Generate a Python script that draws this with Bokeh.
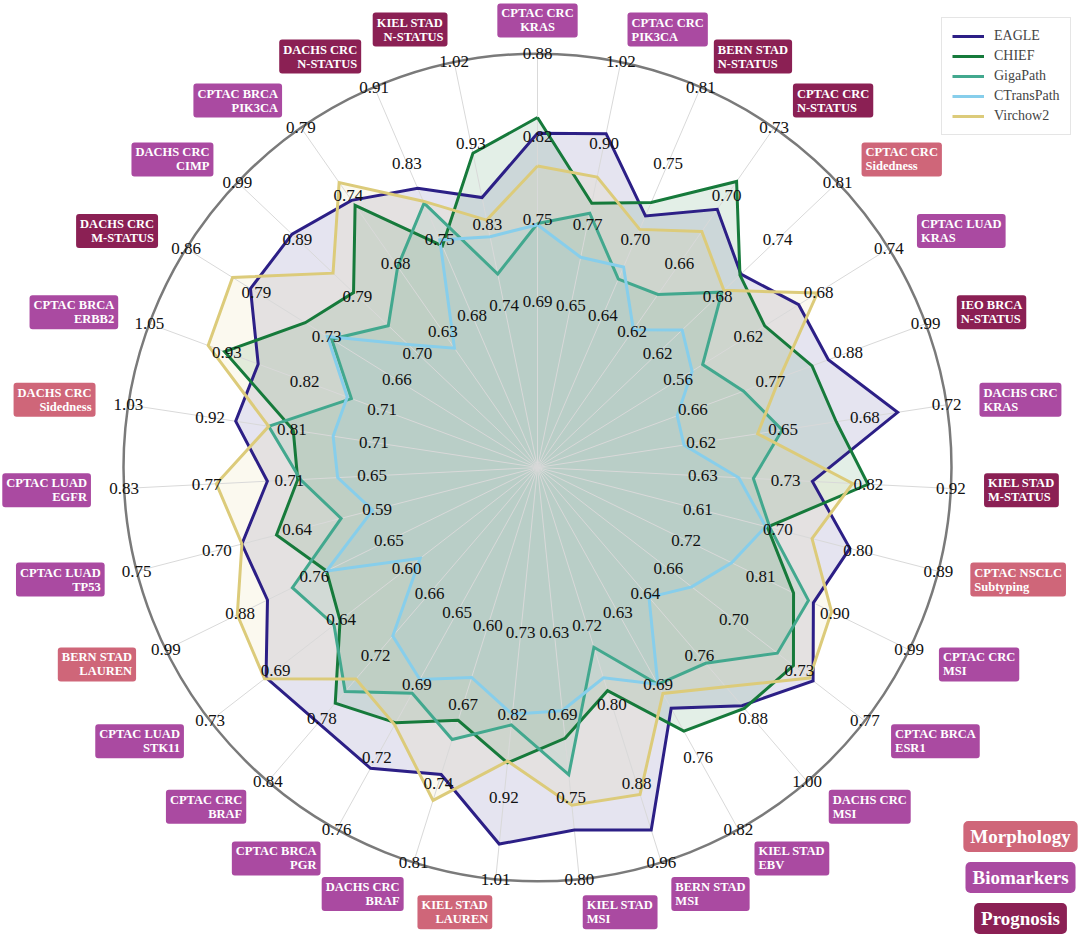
import numpy as np
from bokeh.plotting import figure
from bokeh.models import ColumnDataSource, Range1d, Legend, LegendItem
from bokeh.embed import file_html
from bokeh.resources import INLINE
from bokeh.core.properties import value

# ---------------- data ----------------
tasks = [
    "CPTAC CRC\nKRAS", "CPTAC CRC\nPIK3CA", "BERN STAD\nN-STATUS", "CPTAC CRC\nN-STATUS",
    "CPTAC CRC\nSidedness", "CPTAC LUAD\nKRAS", "IEO BRCA\nN-STATUS", "DACHS CRC\nKRAS",
    "KIEL STAD\nM-STATUS", "CPTAC NSCLC\nSubtyping", "CPTAC CRC\nMSI", "CPTAC BRCA\nESR1",
    "DACHS CRC\nMSI", "KIEL STAD\nEBV", "BERN STAD\nMSI", "KIEL STAD\nMSI",
    "KIEL STAD\nLAUREN", "DACHS CRC\nBRAF", "CPTAC BRCA\nPGR", "CPTAC CRC\nBRAF",
    "CPTAC LUAD\nSTK11", "BERN STAD\nLAUREN", "CPTAC LUAD\nTP53", "CPTAC LUAD\nEGFR",
    "DACHS CRC\nSidedness", "CPTAC BRCA\nERBB2", "DACHS CRC\nM-STATUS", "DACHS CRC\nCIMP",
    "CPTAC BRCA\nPIK3CA", "DACHS CRC\nN-STATUS", "KIEL STAD\nN-STATUS",
]
task_group = [
    "Biomarkers", "Biomarkers", "Prognosis", "Prognosis",
    "Morphology", "Biomarkers", "Prognosis", "Biomarkers",
    "Prognosis", "Morphology", "Biomarkers", "Biomarkers",
    "Biomarkers", "Biomarkers", "Biomarkers", "Biomarkers",
    "Morphology", "Biomarkers", "Biomarkers", "Biomarkers",
    "Biomarkers", "Morphology", "Biomarkers", "Biomarkers",
    "Morphology", "Biomarkers", "Prognosis", "Biomarkers",
    "Biomarkers", "Prognosis", "Prognosis",
]

# per-axis tick labels at 40%, 60%, 80% and 100% of the radius
tick_40 = [0.69, 0.65, 0.64, 0.62, 0.62, 0.56, 0.66, 0.62, 0.63, 0.61, 0.72, 0.66, 0.64, 0.63, 0.72, 0.63,
           0.73, 0.60, 0.65, 0.66, 0.60, 0.65, 0.59, 0.65, 0.71, 0.71, 0.66, 0.70, 0.63, 0.68, 0.74]
tick_60 = [0.75, 0.77, 0.70, 0.66, 0.68, 0.62, 0.77, 0.65, 0.73, 0.70, 0.81, 0.70, 0.76, 0.69, 0.80, 0.69,
           0.82, 0.67, 0.69, 0.72, 0.64, 0.76, 0.64, 0.71, 0.81, 0.82, 0.73, 0.79, 0.68, 0.75, 0.83]
tick_80 = [0.82, 0.90, 0.75, 0.70, 0.74, 0.68, 0.88, 0.68, 0.82, 0.80, 0.90, 0.73, 0.88, 0.76, 0.88, 0.75,
           0.92, 0.74, 0.72, 0.78, 0.69, 0.88, 0.70, 0.77, 0.92, 0.93, 0.79, 0.89, 0.74, 0.83, 0.93]
tick_100 = [0.88, 1.02, 0.81, 0.73, 0.81, 0.74, 0.99, 0.72, 0.92, 0.89, 0.99, 0.77, 1.00, 0.82, 0.96, 0.80,
            1.01, 0.81, 0.76, 0.84, 0.73, 0.99, 0.75, 0.83, 1.03, 1.05, 0.86, 0.99, 0.79, 0.91, 1.02]

eagle = [0.819, 0.911, 0.714, 0.686, 0.708, 0.663, 0.852, 0.700, 0.758, 0.787, 0.874, 0.741, 0.855, 0.714,
         0.927, 0.766, 0.970, 0.732, 0.729, 0.784, 0.693, 0.835, 0.680, 0.726, 0.890, 0.891, 0.799, 0.902,
         0.733, 0.808, 0.864]
chief = [0.831, 0.805, 0.724, 0.701, 0.707, 0.634, 0.829, 0.675, 0.823, 0.691, 0.850, 0.730, 0.860, 0.734,
         0.786, 0.703, 0.878, 0.684, 0.706, 0.765, 0.644, 0.745, 0.657, 0.704, 0.815, 0.940, 0.747, 0.803,
         0.729, 0.750, 0.915]
gigapath = [0.750, 0.790, 0.667, 0.640, 0.688, 0.581, 0.732, 0.653, 0.689, 0.694, 0.868, 0.721, 0.774, 0.693,
            0.742, 0.728, 0.835, 0.701, 0.691, 0.754, 0.648, 0.797, 0.614, 0.702, 0.847, 0.755, 0.722, 0.747,
            0.681, 0.793, 0.776]
ctranspath = [0.749, 0.723, 0.676, 0.621, 0.646, 0.572, 0.638, 0.613, 0.672, 0.689, 0.775, 0.673, 0.648, 0.693,
              0.773, 0.684, 0.823, 0.646, 0.684, 0.701, 0.591, 0.745, 0.593, 0.675, 0.763, 0.761, 0.726, 0.715,
              0.617, 0.756, 0.819]
virchow2 = [0.794, 0.845, 0.704, 0.674, 0.690, 0.679, 0.783, 0.643, 0.805, 0.743, 0.896, 0.739, 0.819, 0.701,
            0.891, 0.749, 0.876, 0.755, 0.707, 0.742, 0.694, 0.881, 0.680, 0.763, 0.847, 0.964, 0.816, 0.836,
            0.747, 0.795, 0.838]

series_names = ["EAGLE", "CHIEF", "GigaPath", "CTransPath", "Virchow2"]
series_values = [eagle, chief, gigapath, ctranspath, virchow2]
series_colors = ["#2c1f86", "#167a3b", "#42a88e", "#87ceeb", "#dccb7a"]

groups = ["Morphology", "Biomarkers", "Prognosis"]
group_colors = {"Morphology": "#cf6679", "Biomarkers": "#aa4aa1", "Prognosis": "#8b2054"}

# ---------------- geometry ----------------
N = len(tasks)
ang = 2 * np.pi * np.arange(N) / N
SX, CY = np.sin(ang), np.cos(ang)
lo = np.array(tick_40, float)
hi = np.array(tick_100, float)


def to_radius(vals):
    return 0.4 + 0.6 * (np.asarray(vals, float) - lo) / (hi - lo)


R_PX = 414.0
W, H = 1080, 937
CXP, CYP = 537, 467
p = figure(width=W, height=H,
           x_range=Range1d(-CXP / R_PX, (W - CXP) / R_PX),
           y_range=Range1d(-(H - CYP) / R_PX, CYP / R_PX),
           x_axis_type=None, y_axis_type=None,
           output_backend="svg", toolbar_location=None, min_border=0)
p.grid.visible = False
p.outline_line_color = None
p.background_fill_color = "white"

# fills
for name, vals, col in zip(series_names, series_values, series_colors):
    r = to_radius(vals)
    xs = np.append(r * SX, r[0] * SX[0])
    ys = np.append(r * CY, r[0] * CY[0])
    p.patch(xs, ys, fill_color=col, fill_alpha=0.12, line_color=None)

# spokes
p.segment(x0=np.zeros(N), y0=np.zeros(N), x1=SX, y1=CY, line_color="#d9d9d9", line_width=1)

# lines
line_renderers = []
for name, vals, col in zip(series_names, series_values, series_colors):
    r = to_radius(vals)
    xs = np.append(r * SX, r[0] * SX[0])
    ys = np.append(r * CY, r[0] * CY[0])
    lr = p.line(xs, ys, line_color=col, line_width=3, line_join="miter")
    line_renderers.append(lr)

# outer circle
p.circle(x=[0], y=[0], radius=1.0, fill_color=None, line_color="#7a7a7a", line_width=2.5)

# tick labels
tk_x, tk_y, tk_t = [], [], []
for frac, labels in zip([0.4, 0.6, 0.8, 1.0], [tick_40, tick_60, tick_80, tick_100]):
    for i in range(N):
        tk_x.append(frac * SX[i])
        tk_y.append(frac * CY[i])
        tk_t.append(f"{labels[i]:.2f}")
p.text(x=tk_x, y=tk_y, text=tk_t, text_align="center", text_baseline="middle",
       text_font=value("Liberation Serif"), text_font_size="17px", text_color="#111111")

# task labels in coloured boxes
LR = 1.08
aligns = ["center" if abs(s) < 0.05 else ("left" if s > 0 else "right") for s in SX]
for al in ["left", "right", "center"]:
    for g in groups:
        idx = [i for i in range(N) if aligns[i] == al and task_group[i] == g]
        if not idx:
            continue
        src = ColumnDataSource(dict(x=[LR * SX[i] for i in idx], y=[LR * CY[i] for i in idx],
                                    text=[tasks[i] for i in idx]))
        p.text(x="x", y="y", text="text", source=src, text_align=al, text_baseline="middle",
               text_font=value("Liberation Serif"), text_font_style="bold", text_font_size="12.5px",
               text_color="white", text_line_height=1.0,
               background_fill_color=group_colors[g], background_fill_alpha=1.0,
               border_radius=3, padding=(4, 3))

# group legend boxes (bottom right)
grp_y_px = [836, 877, 918]
for g, yp in zip(groups, grp_y_px):
    p.text(x=[(1020 - CXP) / R_PX], y=[(CYP - yp) / R_PX], text=[g], text_align="center",
           text_baseline="middle", text_font=value("Liberation Serif"), text_font_style="bold",
           text_font_size="19px", text_color="white",
           background_fill_color=group_colors[g], background_fill_alpha=1.0,
           border_radius=5, padding=(7, 5))

# series legend
legend = Legend(items=[LegendItem(label=n, renderers=[r]) for n, r in zip(series_names, line_renderers)],
                location=(941, 802))
legend.label_text_font = "Liberation Serif"
legend.label_text_font_size = "14px"
legend.glyph_width = 32
legend.glyph_height = 14
legend.label_height = 14
legend.label_standoff = 10
legend.spacing = 4
legend.padding = 10
legend.margin = 0
legend.border_line_color = "#cccccc"
legend.border_line_width = 1
legend.background_fill_alpha = 1.0
p.add_layout(legend)

open("out.html", "w").write(file_html(p, INLINE))
